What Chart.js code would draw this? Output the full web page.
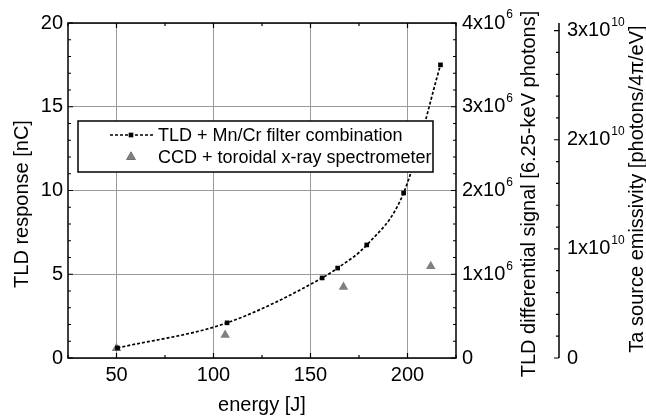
<!DOCTYPE html>
<html>
<head>
<meta charset="utf-8">
<script src="https://cdn.jsdelivr.net/npm/chart.js@4.4.1/dist/chart.umd.min.js"></script>
<style>
    html, body { margin: 0; padding: 0; background: #fff; }
    #wrap { position: relative; width: 646px; height: 417px; }
</style>
</head>
<body>
<div id="wrap"><canvas id="chart"></canvas></div>
<script>
// Data
const energyTld = [50.5, 107, 156, 164, 179, 198, 217];
const responseTld = [0.6, 2.1, 4.78, 5.37, 6.75, 9.85, 17.5];
const energyCcd = [50, 106, 167, 212];
const emissivityCcd = [0.09e10, 0.21e10, 0.65e10, 0.84e10];

// Axis ticks
const xTicks = [50, 100, 150, 200];
const yTicks = [0, 5, 10, 15, 20];
const signalTicks = [0, 1e6, 2e6, 3e6, 4e6];
const signalLabels = ['0', '1x10^6', '2x10^6', '3x10^6', '4x10^6'];
const emissivityTicks = [0, 1e10, 2e10, 3e10];
const emissivityLabels = ['0', '1x10^10', '2x10^10', '3x10^10'];

const FONT = 'Liberation Sans, Arial, Helvetica, sans-serif';

function drawSupLabel(ctx, text, x, y) {
    const parts = text.split('^');
    ctx.font = '20px ' + FONT;
    ctx.textAlign = 'left';
    ctx.textBaseline = 'middle';
    ctx.fillText(parts[0], x, y);
    if (parts[1]) {
        const w = ctx.measureText(parts[0]).width;
        ctx.font = '12px ' + FONT;
        ctx.fillText(parts[1], x + w + 1, y - 8);
    }
}

function drawVerticalText(ctx, text, x, y) {
    ctx.save();
    ctx.translate(x, y);
    ctx.rotate(-Math.PI / 2);
    ctx.fillText(text, 0, 0);
    ctx.restore();
}

const decorations = {
    id: 'decorations',
    afterDraw(chart) {
        const { ctx, chartArea: a, scales } = chart;
        const sx = scales.x, sy = scales.y, s2 = scales.y2, s3 = scales.y3;
        ctx.save();
        ctx.strokeStyle = '#000';
        ctx.fillStyle = '#000';

        // frame
        ctx.lineWidth = 1.5;
        ctx.strokeRect(a.left, a.top, a.right - a.left, a.bottom - a.top);

        // inward ticks on the frame
        ctx.lineWidth = 1.2;
        ctx.beginPath();
        for (let v = 25; v <= 225; v += 25) {
            const px = sx.getPixelForValue(v);
            const len = xTicks.includes(v) ? 5 : 3;
            ctx.moveTo(px, a.bottom); ctx.lineTo(px, a.bottom - len);
            ctx.moveTo(px, a.top); ctx.lineTo(px, a.top + len);
        }
        for (let v = 0; v <= 20; v += 1) {
            const py = sy.getPixelForValue(v);
            const len = v % 5 === 0 ? 5 : 3;
            ctx.moveTo(a.left, py); ctx.lineTo(a.left + len, py);
            ctx.moveTo(a.right, py); ctx.lineTo(a.right - len, py);
        }
        ctx.stroke();

        // second right axis (emissivity)
        const x3 = s3.left;
        ctx.lineWidth = 1.5;
        ctx.beginPath();
        ctx.moveTo(x3, a.top); ctx.lineTo(x3, a.bottom);
        ctx.stroke();
        ctx.lineWidth = 1.2;
        ctx.beginPath();
        for (let i = 0; i <= 15; i++) {
            const py = s3.getPixelForValue(i * 0.2e10);
            const len = i % 5 === 0 ? 5 : 3;
            ctx.moveTo(x3, py); ctx.lineTo(x3 - len, py);
        }
        ctx.stroke();

        // tick labels with exponents
        signalTicks.forEach((v, i) => drawSupLabel(ctx, signalLabels[i], a.right + 6, s2.getPixelForValue(v)));
        emissivityTicks.forEach((v, i) => drawSupLabel(ctx, emissivityLabels[i], x3 + 8, s3.getPixelForValue(v)));

        // vertical axis titles, reading upwards
        ctx.font = '20px ' + FONT;
        ctx.textAlign = 'center';
        ctx.textBaseline = 'middle';
        drawVerticalText(ctx, 'TLD response [nC]', 22, 204);
        drawVerticalText(ctx, 'TLD differential signal [6.25-keV photons]', 529, 194);
        drawVerticalText(ctx, 'Ta source emissivity [photons/4\u03c0/eV]', 637, 189);

        // legend box
        const lx = 78, ly = 121, lw = 355, lh = 51;
        ctx.fillStyle = '#fff';
        ctx.fillRect(lx, ly, lw, lh);
        ctx.lineWidth = 1.5;
        ctx.strokeStyle = '#000';
        ctx.strokeRect(lx, ly, lw, lh);

        const ds = chart.data.datasets;
        const rows = [ly + 14, ly + 36];
        ds.forEach((d, i) => {
            const y = rows[i];
            if (d.showLine) {
                ctx.save();
                ctx.setLineDash(d.borderDash);
                ctx.lineWidth = d.borderWidth;
                ctx.strokeStyle = d.borderColor;
                ctx.beginPath();
                ctx.moveTo(110, y); ctx.lineTo(153, y);
                ctx.stroke();
                ctx.restore();
            }
            Chart.helpers.drawPoint(ctx, {
                pointStyle: d.pointStyle, radius: d.pointRadius, borderWidth: 0, rotation: 0
            }, 131, y);
            ctx.fillStyle = d.pointBackgroundColor;
            ctx.fill();
            ctx.fillStyle = '#000';
            ctx.font = '18px ' + FONT;
            ctx.textAlign = 'left';
            ctx.textBaseline = 'middle';
            ctx.fillText(d.label, 158, y + 1);
        });
        ctx.restore();
    }
};

new Chart(document.getElementById('chart'), {
    type: 'scatter',
    data: {
        datasets: [{
            label: 'TLD + Mn/Cr filter combination',
            data: energyTld.map((e, i) => ({ x: e, y: responseTld[i] })),
            yAxisID: 'y',
            showLine: true,
            borderColor: '#000',
            borderWidth: 1.7,
            borderDash: [3, 2],
            cubicInterpolationMode: 'monotone',
            pointStyle: 'rect',
            pointRadius: 3.3,
            pointBackgroundColor: '#000',
            pointBorderWidth: 0
        }, {
            label: 'CCD + toroidal x-ray spectrometer',
            data: energyCcd.map((e, i) => ({ x: e, y: emissivityCcd[i] })),
            yAxisID: 'y3',
            showLine: false,
            pointStyle: 'triangle',
            pointRadius: 5.5,
            pointBackgroundColor: '#808080',
            pointBorderWidth: 0
        }]
    },
    options: {
        responsive: true,
        maintainAspectRatio: false,
        animation: false,
        layout: { padding: { top: 23, left: 0, right: 0, bottom: 0 } },
        plugins: { legend: { display: false }, tooltip: { enabled: false } },
        scales: {
            x: {
                type: 'linear',
                min: 25,
                max: 225,
                afterBuildTicks: s => { s.ticks = xTicks.map(v => ({ value: v })); },
                afterFit: s => { s.height = 59; },
                grid: { color: '#9a9a9a', lineWidth: 1, drawTicks: false },
                border: { display: false },
                ticks: { color: '#000', padding: 5, font: { family: FONT, size: 20 } },
                title: {
                    display: true,
                    text: 'energy [J]',
                    color: '#000',
                    font: { family: FONT, size: 20 },
                    padding: { top: 0, bottom: 0 }
                }
            },
            y: {
                position: 'left',
                min: 0,
                max: 20,
                afterBuildTicks: s => { s.ticks = yTicks.map(v => ({ value: v })); },
                afterFit: s => { s.width = 68; },
                grid: { color: '#9a9a9a', lineWidth: 1, drawTicks: false },
                border: { display: false },
                ticks: { color: '#000', padding: 5, font: { family: FONT, size: 20 } }
            },
            y2: {
                position: 'right',
                min: 0,
                max: 4e6,
                afterFit: s => { s.width = 103; },
                grid: { display: false },
                border: { display: false },
                ticks: { display: false }
            },
            y3: {
                position: 'right',
                min: 0,
                max: 3.07e10,
                afterFit: s => { s.width = 87; },
                grid: { display: false },
                border: { display: false },
                ticks: { display: false }
            }
        }
    },
    plugins: [decorations]
});
</script>
</body>
</html>
